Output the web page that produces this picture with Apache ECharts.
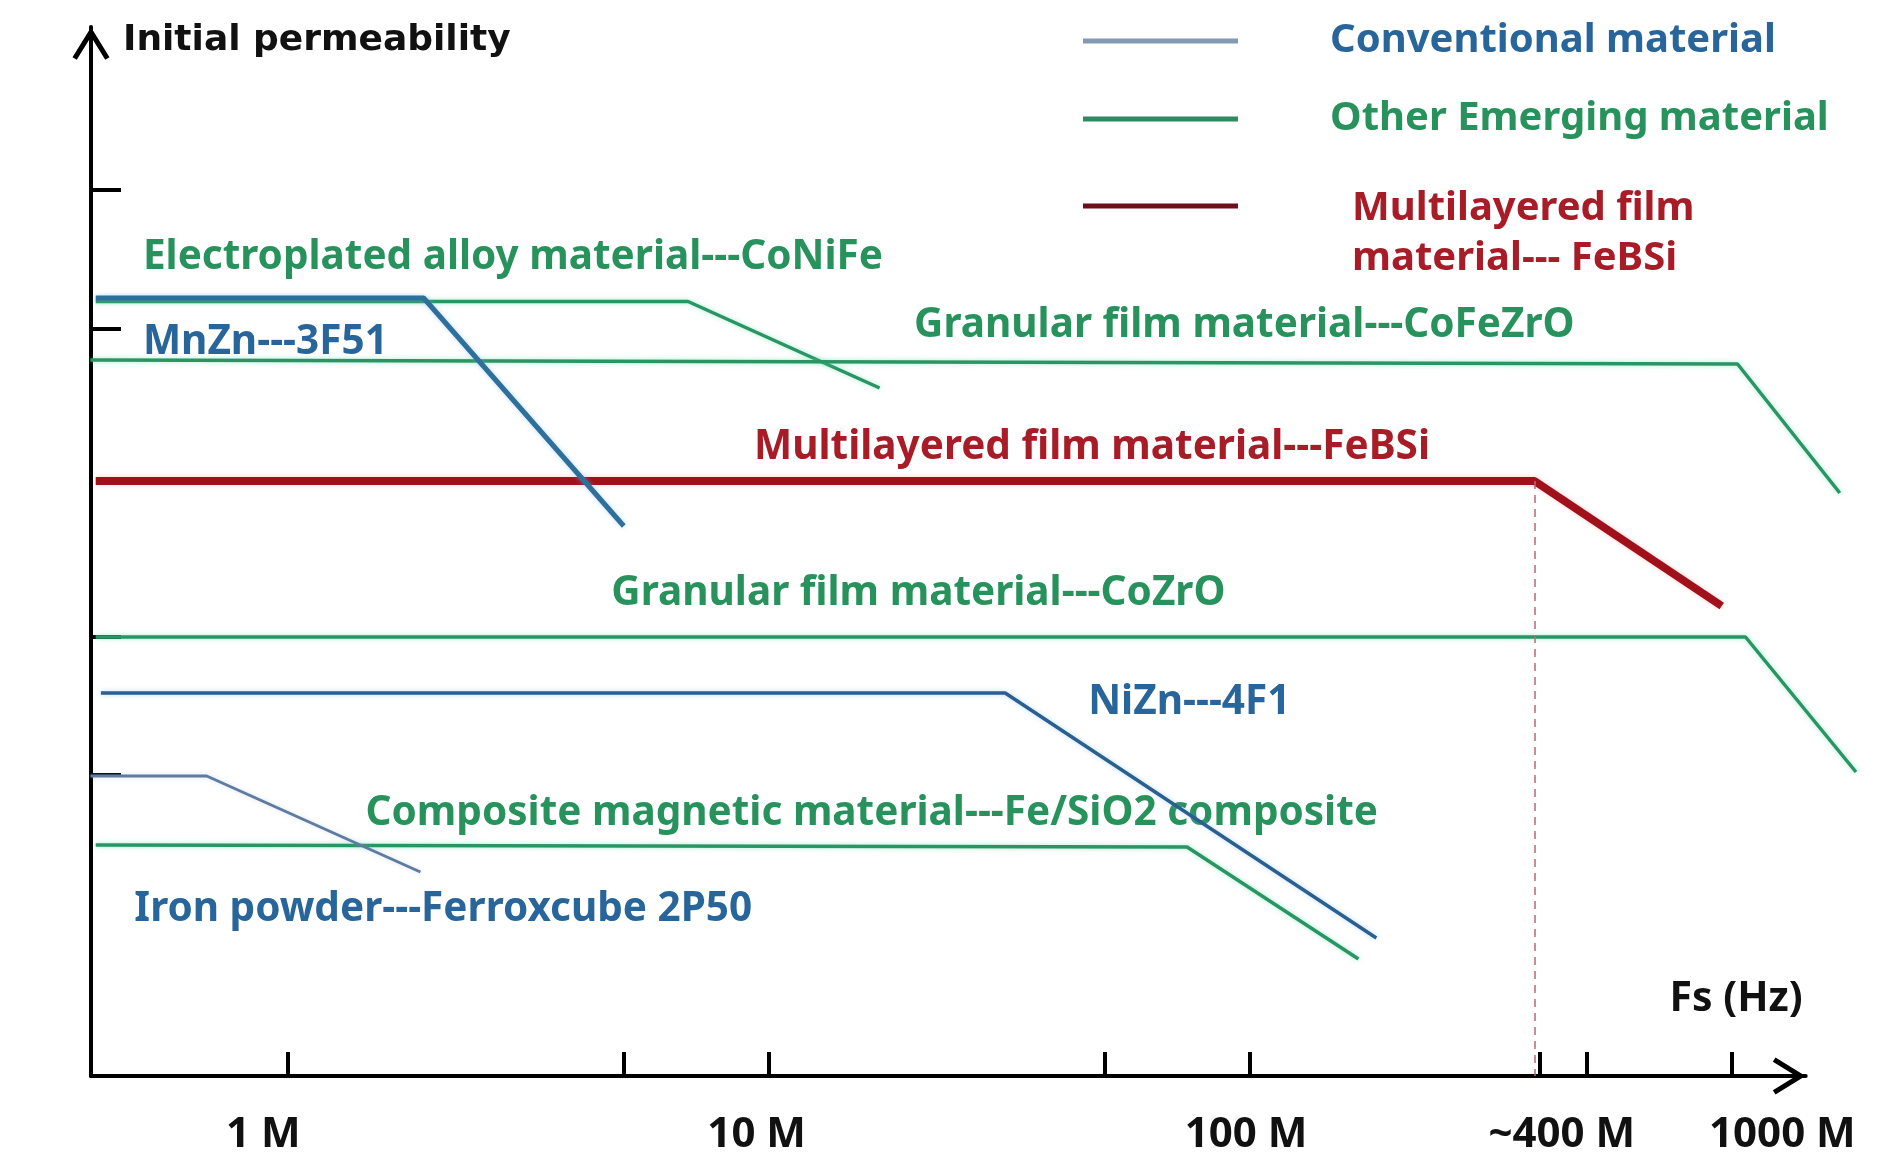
<!DOCTYPE html>
<html>
<head>
<meta charset="utf-8">
<script src="https://cdn.jsdelivr.net/npm/echarts@6/dist/echarts.min.js"></script>
<style>
html,body{margin:0;padding:0;background:#ffffff;}
#chart{width:1896px;height:1168px;}
</style>
</head>
<body>
<div id="chart"></div>
<script>
// ---------------- DATA (x: frequency in MHz, y: relative initial permeability level, schematic) ----------------
const categories = ['Conventional material', 'Other Emerging material', 'Multilayered film material--- FeBSi'];

const mnznFreq   = [0.40, 1.92, 5.0];     const mnznPerm   = [77.8, 77.8, 55.0];
const conifeFreq = [0.40, 6.8, 17];       const conifePerm = [77.45, 77.45, 68.8];
const cofezroFreq= [0.39, 1030, 1680];    const cofezroPerm= [71.6, 71.2, 58.3];
const febsiFreq  = [0.40, 390, 955];      const febsiPerm  = [59.5, 59.5, 47.0];
const cozroFreq  = [0.40, 1070, 1815];    const cozroPerm  = [43.9, 43.9, 30.4];
const niznFreq   = [0.41, 31, 183];       const niznPerm   = [38.3, 38.3, 13.8];
const fesio2Freq = [0.40, 74, 168];       const fesio2Perm = [23.1, 22.9, 11.7];
const ironFreq   = [0.39, 0.68, 1.89];    const ironPerm   = [30.0, 30.0, 20.4];

const curveNames = [
  'MnZn---3F51',
  'Electroplated alloy material---CoNiFe',
  'Granular film material---CoFeZrO',
  'Multilayered film material---FeBSi',
  'Granular film material---CoZrO',
  'NiZn---4F1',
  'Composite magnetic material---Fe/SiO2 composite',
  'Iron powder---Ferroxcube 2P50'
];
const curveCategory = [0, 1, 1, 2, 1, 0, 1, 0];
const curveFreqs = [mnznFreq, conifeFreq, cofezroFreq, febsiFreq, cozroFreq, niznFreq, fesio2Freq, ironFreq];
const curvePerms = [mnznPerm, conifePerm, cofezroPerm, febsiPerm, cozroPerm, niznPerm, fesio2Perm, ironPerm];

const febsiCutoff = 390;   // "~400 M" guide

const xTickValues  = [1, 5, 10, 50, 100, 400, 500, 1000];
const xLabelValues = [1, 10, 100, 400, 1000];
const xLabelTexts  = ['1 M', '10 M', '100 M', '~400 M', '1000 M'];
const yTickValues  = [30.1, 43.9, 74.7, 88.6];

// label anchors (data coordinates) for the material annotations
const labelFreq = [0.50, 0.50, 20.0, 9.3, 4.7, 46, 1.45, 0.48];
const labelPerm = [73.4, 81.9, 75.1, 62.9, 48.25, 37.35, 26.25, 16.65];

// ---------------- STYLE ----------------
const FONT = 'Noto Sans';
const FS = 40.5;      // annotation text
const FS_LEG = 40;    // legend text
const FS_AX = 42;     // axis labels / axis name
const textColors = ['#28659a', '#27925c', '#a81c28'];
const curveStyles = [
  {color:'#2f6f9c', width:5, glow:'rgba(110,180,235,0.45)'},
  {color:'#2b9463', width:3.5, glow:'rgba(90,220,170,0.55)'},
  {color:'#2b9463', width:3.5, glow:'rgba(90,220,170,0.55)'},
  {color:'#a1111b', width:8, glow:'rgba(240,120,130,0.35)'},
  {color:'#2b9463', width:3.5, glow:'rgba(90,220,170,0.55)'},
  {color:'#2a5f90', width:3.5, glow:'rgba(110,180,235,0.45)'},
  {color:'#2b9463', width:3.5, glow:'rgba(90,220,170,0.55)'},
  {color:'#5e7ca2', width:3, glow:'rgba(140,170,210,0.35)'}
];
const legendColors = ['#8399b4', '#2f8a60', '#6b0f1a'];
const labelShift = [-24, -12, -4, 22, 51];
const ARROW = 'path://M18.5,0 L37,30 L32.74,32.63 L18.5,9.54 L4.26,32.63 L0,30 Z';

// axis geometry: visible axes end at the arrow; data grid is wider with the same scale
const X_MIN = 0.391, X_MAX_AXIS = 1427, X_MAX_DATA = 2000;
const GRID_LEFT = 91, GRID_RIGHT = 90.3;
const PX_PER_DECADE = (1896 - GRID_LEFT - GRID_RIGHT) / (Math.log10(X_MAX_AXIS) - Math.log10(X_MIN));
const GRID2_RIGHT = 1896 - GRID_LEFT - PX_PER_DECADE * (Math.log10(X_MAX_DATA) - Math.log10(X_MIN));

const rich = {};
labelShift.forEach((s, i) => {
  rich['s' + i] = {
    fontFamily: FONT, fontWeight: 'bold', fontSize: FS_AX, color: '#111', lineHeight: 42,
    padding: s < 0 ? [0, -2 * s, 0, 0] : [0, 0, 0, 2 * s]
  };
});

const series = curveNames.map((name, i) => ({
  type: 'line',
  id: name,
  name: categories[curveCategory[i]],
  xAxisIndex: 1, yAxisIndex: 1,
  data: curveFreqs[i].map((f, k) => [f, curvePerms[i][k]]),
  symbol: 'none',
  clip: false,
  silent: true,
  z: i === 0 ? 4 : 3,
  itemStyle: {color: curveStyles[i].color},
  lineStyle: {
    color: curveStyles[i].color, width: curveStyles[i].width,
    shadowBlur: 5, shadowColor: curveStyles[i].glow
  },
  markLine: name === 'Multilayered film material---FeBSi' ? {
    silent: true, symbol: ['none', 'none'], label: {show: false},
    lineStyle: {type: [8, 6], color: '#b86b78', width: 1.5, shadowBlur: 0},
    data: [[{coord: [febsiCutoff, febsiPerm[1]]}, {coord: [febsiCutoff, 0]}]]
  } : undefined
}));

series.push({
  type: 'scatter',
  name: 'annotations',
  xAxisIndex: 1, yAxisIndex: 1,
  symbol: 'circle',
  symbolSize: 1,
  silent: true,
  clip: false,
  z: 2,
  itemStyle: {color: 'rgba(0,0,0,0)', opacity: 1},
  label: {
    show: true, position: 'right', distance: 0, formatter: '{b}', opacity: 1,
    fontFamily: FONT, fontWeight: 'bold', fontSize: FS, align: 'left', verticalAlign: 'middle'
  },
  data: curveNames.map((n, i) => ({
    name: n,
    value: [labelFreq[i], labelPerm[i]],
    label: {color: textColors[curveCategory[i]]}
  }))
});

function legendCfg(idx, top, padLeft, formatter, richCfg) {
  return {
    left: 1083, top: top, padding: 0, orient: 'vertical', selectedMode: false,
    itemWidth: 155, itemHeight: 5, icon: 'rect',
    formatter: formatter,
    textStyle: {fontFamily: FONT, fontWeight: 'bold', fontSize: FS_LEG, lineHeight: 44,
      padding: [0, 0, 0, padLeft], rich: richCfg},
    data: [{
      name: categories[idx], icon: 'rect',
      itemStyle: {color: legendColors[idx], borderWidth: 0},
      textStyle: {color: textColors[idx]}
    }]
  };
}
const legendRich = {
  t: {fontFamily: FONT, fontWeight: 'bold', fontSize: FS_LEG, lineHeight: 44},
  t2: {fontFamily: FONT, fontWeight: 'bold', fontSize: FS_LEG, lineHeight: 50},
  sp56: {fontSize: 1, lineHeight: 56}
};

const chart = echarts.init(document.getElementById('chart'), null, {renderer: 'canvas'});
chart.setOption({
  animation: false,
  backgroundColor: '#ffffff',
  textStyle: {fontFamily: FONT},
  grid: [
    {left: GRID_LEFT, right: GRID_RIGHT, top: 27, bottom: 92, containLabel: false, outerBoundsMode: 'none'},
    {left: GRID_LEFT, right: GRID2_RIGHT, top: 27, bottom: 92, containLabel: false, outerBoundsMode: 'none'}
  ],
  legend: [
    legendCfg(0, 19, 87, name => '{t|' + name + '}', legendRich),
    legendCfg(1, 97, 87, name => '{t|' + name + '}', legendRich),
    legendCfg(2, 128, 109, () => '{sp56| }\n{t2|Multilayered film}\n{t2|material--- FeBSi}', legendRich)
  ],
  xAxis: [{
    gridIndex: 0,
    type: 'log', logBase: 10, min: X_MIN, max: X_MAX_AXIS,
    axisLine: {show: true, onZero: false, lineStyle: {color: '#000', width: 4},
      symbol: ['none', ARROW], symbolSize: [37, 33], symbolOffset: [0, -16.5]},
    axisTick: {show: true, inside: true, length: 24, lineStyle: {color: '#000', width: 4}, customValues: xTickValues},
    axisLabel: {
      show: true,
      // order chosen so the overlapping neighbours are not the first/last pair
      customValues: [xLabelValues[4], xLabelValues[0], xLabelValues[1], xLabelValues[2], xLabelValues[3]],
      showMinLabel: true, showMaxLabel: true,
      margin: 38, rich: rich,
      fontFamily: FONT, fontWeight: 'bold', fontSize: FS_AX, color: '#111',
      formatter: function (value) {
        let i = xLabelValues.findIndex(v => Math.abs(v - value) / v < 1e-6);
        if (i < 0) return '';
        return '{s' + i + '|' + xLabelTexts[i] + '}';
      }
    },
    splitLine: {show: false},
    name: 'Fs (Hz)', nameLocation: 'end', nameGap: -3,
    nameTextStyle: {align: 'right', verticalAlign: 'bottom', padding: [0, 0, 56, 0],
      fontFamily: FONT, fontWeight: 'bold', fontSize: 41, color: '#111'}
  }, {
    gridIndex: 1, show: false,
    type: 'log', logBase: 10, min: X_MIN, max: X_MAX_DATA
  }],
  yAxis: [{
    gridIndex: 0,
    type: 'value', min: 0, max: 104.9,
    axisLine: {show: true, onZero: false, lineStyle: {color: '#000', width: 4},
      symbol: ['none', ARROW], symbolSize: [37, 33], symbolOffset: [0, -16.5]},
    axisTick: {show: true, inside: true, length: 30, lineStyle: {color: '#000', width: 4}, customValues: yTickValues},
    axisLabel: {show: false},
    splitLine: {show: false},
    name: 'Initial permeability', nameLocation: 'end', nameGap: -14,
    nameTextStyle: {align: 'left', verticalAlign: 'middle', padding: [0, 0, 0, 32],
      fontFamily: 'DejaVu Sans', fontWeight: 'bold', fontSize: 36, color: '#111'}
  }, {
    gridIndex: 1, show: false,
    type: 'value', min: 0, max: 104.9
  }],
  series: series
});
</script>
</body>
</html>
